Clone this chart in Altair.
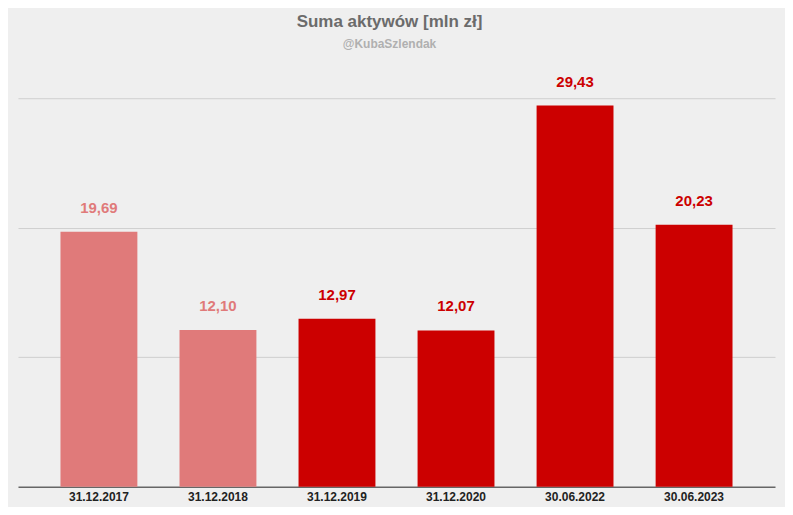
import altair as alt
import pandas as pd

dates = ["31.12.2017", "31.12.2018", "31.12.2019", "31.12.2020", "30.06.2022", "30.06.2023"]
values = [19.69, 12.10, 12.97, 12.07, 29.43, 20.23]
labels = ["19,69", "12,10", "12,97", "12,07", "29,43", "20,23"]
colors = ["#e07a7a", "#e07a7a", "#cc0000", "#cc0000", "#cc0000", "#cc0000"]

df = pd.DataFrame({"date": dates, "value": values, "label": labels, "color": colors})

FONT = "Arial, Liberation Sans, sans-serif"

x = alt.X("date:N", sort=dates, title=None,
          scale=alt.Scale(paddingInner=0.354, paddingOuter=0.357),
          axis=alt.Axis(labelAngle=0, labelFont=FONT, labelFontSize=12, labelFontWeight="bold",
                        labelColor="#222222", ticks=False, labelPadding=5,
                        domainColor="#666666", domainWidth=1.5, grid=False))
y = alt.Y("value:Q", title=None, scale=alt.Scale(domain=[0, 30], nice=False),
          axis=alt.Axis(labels=False, ticks=False, domain=False, values=[10, 20, 30],
                        gridColor="#cfcfcf", gridWidth=1))

bars = alt.Chart(df).mark_bar().encode(x=x, y=y, color=alt.Color("color:N", scale=None))
text = alt.Chart(df).mark_text(dy=-16, fontSize=15, fontWeight="bold", font=FONT, baseline="bottom").encode(
    x=alt.X("date:N", sort=dates), y="value:Q", text="label:N",
    color=alt.Color("color:N", scale=None))

chart = (bars + text).properties(
    width=758, height=389,
    autosize=alt.AutoSizeParams(type="none"),
    padding={"left": 10, "top": 90, "right": 10, "bottom": 20},
    background="#efefef",
    title=alt.Title("Suma aktywów [mln zł]", subtitle="@KubaSzlendak", anchor="middle",
                    font=FONT, fontSize=17, fontWeight="bold", color="#6b6b6b",
                    subtitleFont=FONT, subtitleFontSize=12, subtitleFontWeight="bold",
                    subtitleColor="#b0b0b0", subtitlePadding=8, offset=24, dx=-7),
).configure_view(stroke=None)

chart.save("out.html", embed_options={"renderer": "svg", "actions": False})
